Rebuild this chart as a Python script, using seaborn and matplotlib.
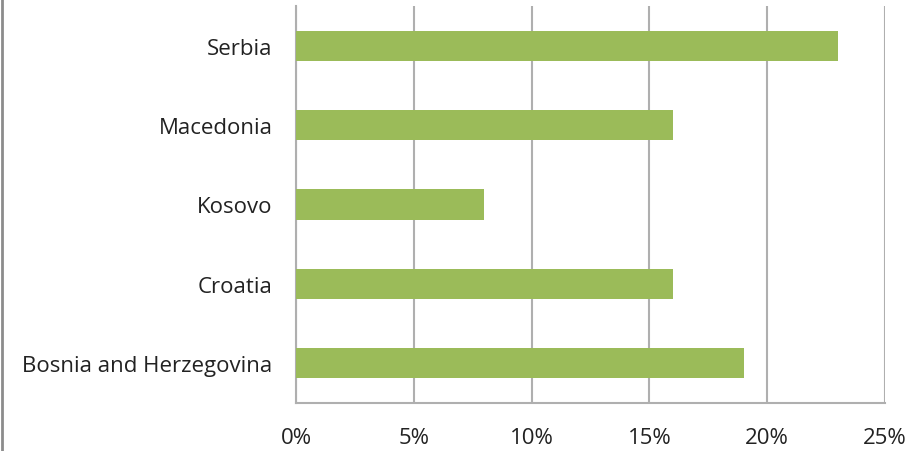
import matplotlib
matplotlib.use("Agg")
import matplotlib.pyplot as plt
import seaborn as sns
import pandas as pd
from matplotlib.lines import Line2D
from matplotlib.ticker import PercentFormatter

countries = ["Serbia", "Macedonia", "Kosovo", "Croatia", "Bosnia and Herzegovina"]
values = [23, 16, 8, 16, 19]
xticks = [0, 5, 10, 15, 20, 25]

df = pd.DataFrame({"country": countries, "value": values})

sns.set_theme(style="white")
plt.rcParams["font.family"] = ["Open Sans", "DejaVu Sans"]

fig = plt.figure(figsize=(9.2, 4.52), dpi=100)
ax = fig.add_axes([296/920, 1-404/452, (885-296)/920, (404-7)/452])

sns.barplot(data=df, x="value", y="country", orient="h", color="#9BBB59",
            saturation=1, width=0.38, ax=ax, zorder=3, linewidth=0)

ax.set_xlim(0, 25)
ax.set_xticks(xticks)
ax.xaxis.set_major_formatter(PercentFormatter(decimals=0))
ax.grid(axis="x", color="#AFAFAF", linewidth=1.5, zorder=0)
ax.set_axisbelow(True)
ax.set_xlabel("")
ax.set_ylabel("")
for s in ["top", "right"]:
    ax.spines[s].set_visible(False)
for s in ["left", "bottom"]:
    ax.spines[s].set_color("#AFAFAF")
    ax.spines[s].set_linewidth(1.5)
ax.tick_params(axis="both", length=0, labelsize=16, colors="#222222")
ax.tick_params(axis="x", pad=17)
ax.tick_params(axis="y", pad=17)

fig.add_artist(Line2D([2.5/920, 2.5/920], [0, 1], transform=fig.transFigure,
                      color="#8C8C8C", linewidth=2))

fig.savefig("out.png", dpi=100)
